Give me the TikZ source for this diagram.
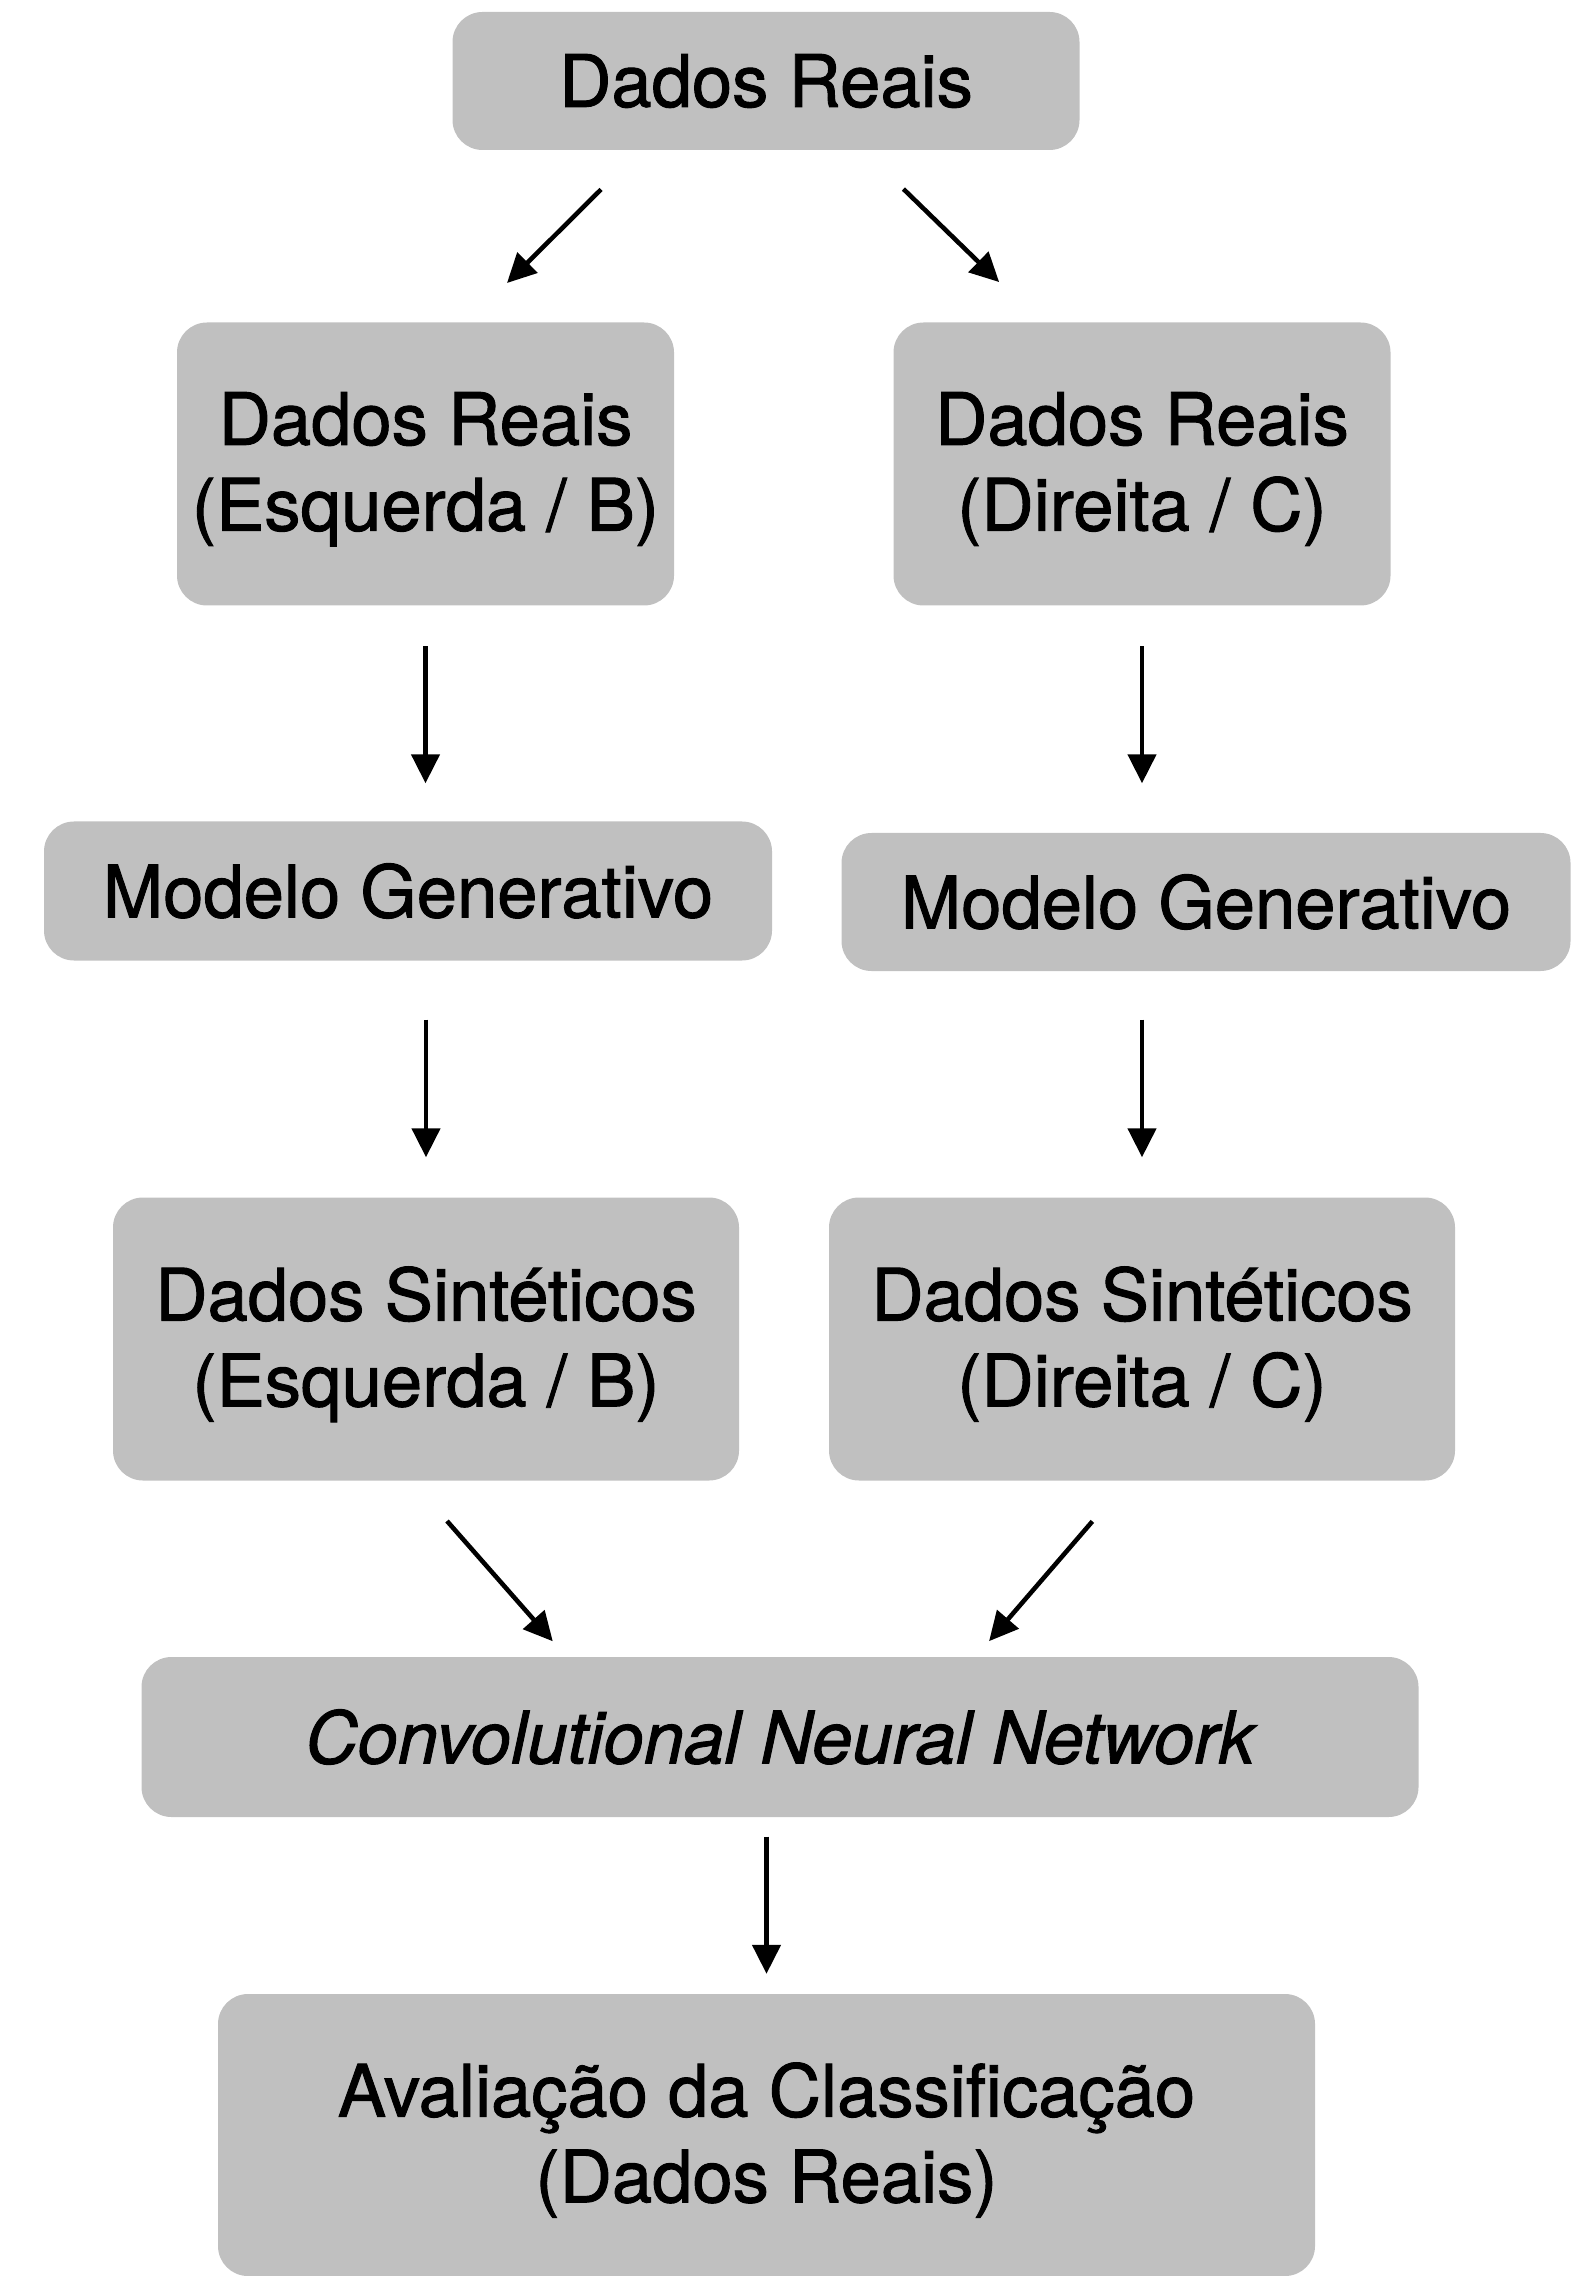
\documentclass[tikz,border=0pt]{standalone}
\usepackage{fontspec}
\setmainfont[FakeBold=1.3]{TeX Gyre Heros}
\usepackage{xcolor}
\usepackage{tikz}
\usetikzlibrary{arrows.meta,positioning}
\definecolor{boxGrey}{HTML}{C0C0C0}

\begin{document}
\begin{tikzpicture}[font=\fontsize{20.6}{24.4}\selectfont,
  b/.style={fill=boxGrey,align=center,rounded corners=0.3cm,inner sep=0pt},
  tall/.style={b,text depth=1.5pt,minimum height=2.83cm},
  arr/.style={-{Triangle[length=0.29cm,width=0.28cm]},line width=1.3pt}]
\useasboundingbox (0,0) rectangle (15.88,-22.76);

\node[b,minimum width=6.27cm,minimum height=1.38cm]  (real) at (7.66,-0.81)   {Dados Reais};
\node[tall,minimum width=4.97cm]                     (rb)   at (4.255,-4.64)  {Dados Reais\\(Esquerda / B)};
\node[tall,minimum width=4.97cm]                     (rc)   at (11.42,-4.64)  {Dados Reais\\(Direita / C)};
\node[b,minimum width=7.28cm,minimum height=1.39cm]  (genb) at (4.08,-8.91)   {Modelo Generativo};
\node[b,minimum width=7.29cm,minimum height=1.38cm]  (genc) at (12.06,-9.02)  {Modelo Generativo};
\node[tall,minimum width=6.26cm]                     (synb) at (4.26,-13.39)  {Dados Sintéticos\\(Esquerda / B)};
\node[tall,minimum width=6.26cm]                     (sync) at (11.42,-13.39) {Dados Sintéticos\\(Direita / C)};
\node[b,minimum width=12.77cm,minimum height=1.60cm] (cnn)  at (7.80,-17.37)  {\itshape Convolutional Neural Network};
\node[tall,minimum width=10.97cm,minimum height=2.82cm] (eval) at (7.665,-21.35) {Avaliação da Classificação\\(Dados Reais)};

\draw[arr,shorten <=0.55cm,shorten >=0.55cm] ([xshift=-1.26cm]real.south) -- ([xshift=0.425cm]rb.north);
\draw[arr,shorten <=0.55cm,shorten >=0.57cm] ([xshift=0.98cm]real.south) -- ([xshift=-1.02cm]rc.north);
\draw[arr,shorten <=0.40cm,shorten >=0.375cm] (rb.south) -- (rb.south |- genb.north);
\draw[arr,shorten <=0.40cm,shorten >=0.49cm] (rc.south) -- (rc.south |- genc.north);
\draw[arr,shorten <=0.585cm,shorten >=0.395cm] (synb.north |- genb.south) -- (synb.north);
\draw[arr,shorten <=0.48cm,shorten >=0.395cm] (sync.north |- genc.south) -- (sync.north);
\draw[arr,shorten <=0.53cm,shorten >=0.20cm] ([xshift=-0.14cm]synb.south) -- ([xshift=-2.14cm]cnn.north);
\draw[arr,shorten <=0.53cm,shorten >=0.20cm] ([xshift=-0.15cm]sync.south) -- ([xshift=1.96cm]cnn.north);
\draw[arr,shorten <=0.19cm,shorten >=0.195cm] (eval.north |- cnn.south) -- (eval.north);
\end{tikzpicture}
\end{document}
